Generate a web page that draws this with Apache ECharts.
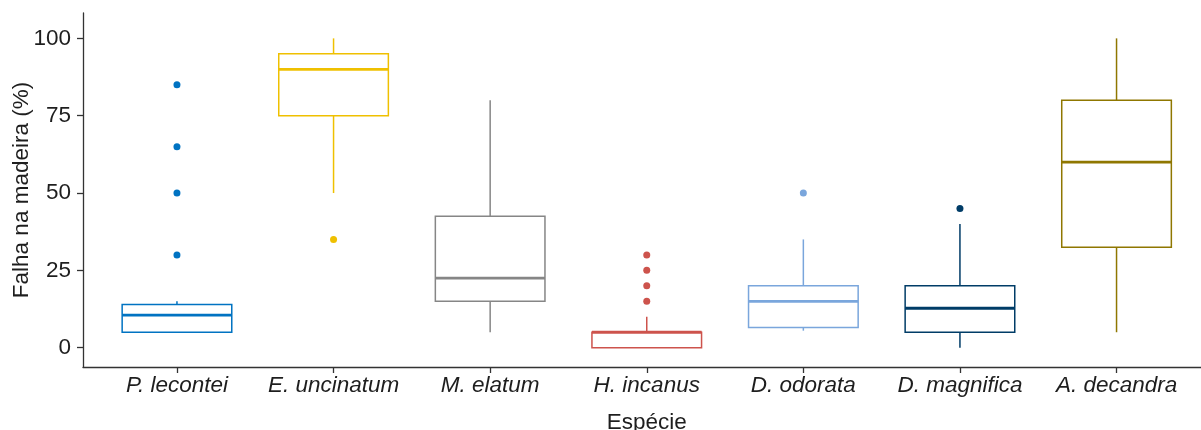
<!doctype html>
<html lang="pt">
  <head>
    <meta charset="UTF-8" />
    <title>Falha na madeira por espécie</title>
    <script src="https://cdn.jsdelivr.net/npm/echarts@6/dist/echarts.min.js"></script>
    <style type="text/css">
      * {
        margin: 0;
        padding: 0;
      }
      html,
      body {
        background: #fff;
      }
      #chart {
        width: 1201px;
        height: 430px;
      }
    </style>
  </head>
  <body>
    <div id="chart"></div>
  </body>
  <script>
    // species, in plot order
    const categories = [
      'P. lecontei',
      'E. uncinatum',
      'M. elatum',
      'H. incanus',
      'D. odorata',
      'D. magnifica',
      'A. decandra',
    ];
    // box statistics (%)
    const whiskerLow = [5, 50, 5, 0, 5.5, 0, 5];
    const q1 = [5, 75, 15, 0, 6.5, 5, 32.5];
    const medians = [10.5, 90, 22.5, 5, 15, 12.75, 60];
    const q3 = [14, 95, 42.5, 5, 20, 20, 80];
    const whiskerHigh = [15, 100, 80, 10, 35, 40, 100];
    // outliers per species
    const outliers = [[30, 50, 65, 85], [35], [], [15, 20, 25, 30], [50], [45], []];
    const yTicks = [0, 25, 50, 75, 100];

    // jco palette
    const colors = ['#0073C2', '#EFC000', '#868686', '#CD534C', '#7AA6DC', '#003C67', '#8F7700'];
    const textColor = '#1e1e1e';
    const font = 'Liberation Sans';

    const boxRows = categories.map(function (c, i) {
      return [i + 1, whiskerLow[i], q1[i], medians[i], q3[i], whiskerHigh[i]];
    });
    const outlierPoints = [];
    outliers.forEach(function (list, i) {
      list.forEach(function (v) {
        outlierPoints.push({ value: [i + 1, v], itemStyle: { color: colors[i], opacity: 1 } });
      });
    });

    function renderBox(params, api) {
      const x = api.value(0);
      const lo = api.coord([x, api.value(1)]);
      const b1 = api.coord([x, api.value(2)]);
      const md = api.coord([x, api.value(3)]);
      const b3 = api.coord([x, api.value(4)]);
      const hi = api.coord([x, api.value(5)]);
      const half = api.size([0.7, 0])[0] / 2;
      const color = colors[params.dataIndex];
      const thin = { stroke: color, lineWidth: 1.5 };
      return {
        type: 'group',
        children: [
          { type: 'line', shape: { x1: hi[0], y1: hi[1], x2: b3[0], y2: b3[1] }, style: thin },
          { type: 'line', shape: { x1: lo[0], y1: lo[1], x2: b1[0], y2: b1[1] }, style: thin },
          {
            type: 'rect',
            shape: { x: b3[0] - half, y: b3[1], width: 2 * half, height: b1[1] - b3[1] },
            style: { stroke: color, lineWidth: 1.5, fill: '#fff' },
          },
          {
            type: 'line',
            shape: { x1: md[0] - half, y1: md[1], x2: md[0] + half, y2: md[1] },
            style: { stroke: color, lineWidth: 2.8 },
          },
        ],
      };
    }

    const axisLine = { show: true, onZero: false, lineStyle: { color: '#333', width: 1.3 } };

    const option = {
      animation: false,
      textStyle: { fontFamily: font },
      grid: { left: 83, top: 13, width: 1127.5, height: 354, containLabel: false, outerBoundsMode: 'none' },
      xAxis: {
        type: 'value',
        min: 0.4,
        max: 7.6,
        name: 'Espécie',
        nameLocation: 'middle',
        nameGap: 44,
        nameMoveOverlap: false,
        nameTextStyle: { color: textColor, fontSize: 22.5, fontFamily: font },
        axisLine: axisLine,
        axisTick: {
          show: true,
          length: 6,
          customValues: [1, 2, 3, 4, 5, 6, 7],
          lineStyle: { color: '#333', width: 1.3 },
        },
        axisLabel: {
          customValues: [1, 2, 3, 4, 5, 6, 7],
          margin: 7,
          color: textColor,
          fontSize: 22.5,
          fontStyle: 'italic',
          fontFamily: font,
          formatter: function (v) {
            return categories[Math.round(v) - 1];
          },
        },
        splitLine: { show: false },
      },
      yAxis: {
        type: 'value',
        min: -6.24,
        max: 108.2,
        name: 'Falha na madeira (%)',
        nameLocation: 'middle',
        nameGap: 50,
        nameMoveOverlap: false,
        nameTextStyle: { color: textColor, fontSize: 22.5, fontFamily: font },
        axisLine: axisLine,
        axisTick: {
          show: true,
          length: 6,
          customValues: yTicks,
          lineStyle: { color: '#333', width: 1.3 },
        },
        axisLabel: {
          customValues: yTicks,
          margin: 12,
          color: textColor,
          fontSize: 22.5,
          fontFamily: font,
        },
        splitLine: { show: false },
      },
      series: [
        {
          type: 'custom',
          renderItem: renderBox,
          encode: { x: 0, y: [1, 2, 3, 4, 5] },
          data: boxRows,
          clip: false,
        },
        {
          type: 'scatter',
          symbolSize: 7,
          itemStyle: { opacity: 1 },
          data: outlierPoints,
        },
      ],
    };

    const chart = echarts.init(document.getElementById('chart'), null, { renderer: 'canvas' });
    chart.setOption(option);
  </script>
</html>
